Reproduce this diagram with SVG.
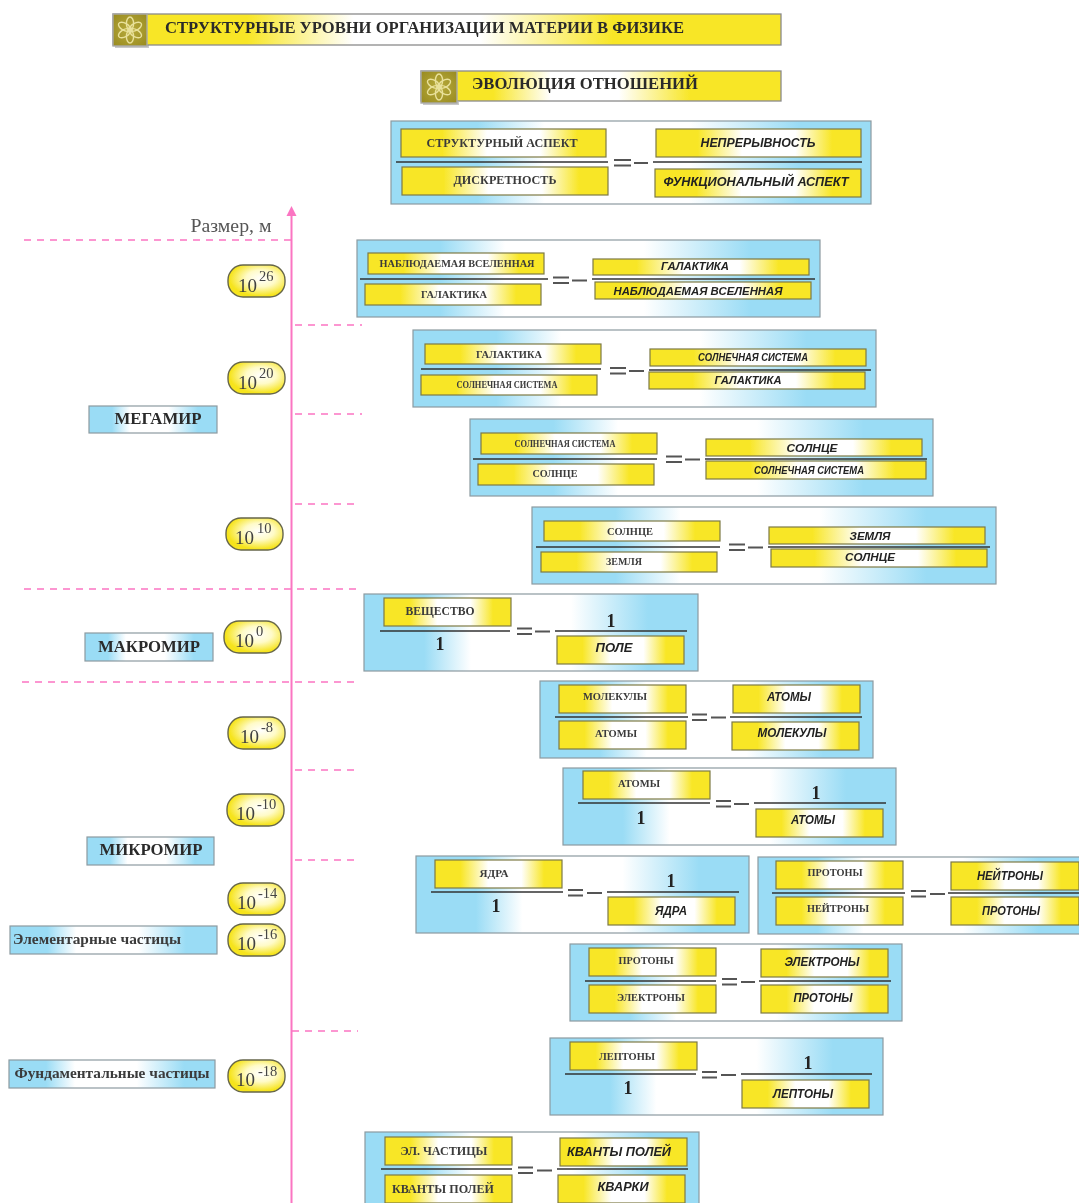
<svg xmlns="http://www.w3.org/2000/svg" width="1079" height="1203" viewBox="0 0 1079 1203">
<style>
text{font-family:"Liberation Serif",serif;fill:#3a3a3a;font-weight:bold;text-anchor:middle}
.i{font-family:"Liberation Sans",sans-serif;font-style:italic;fill:#222;font-size:11px}
.s{font-size:10.5px}
.p{fill:url(#gb);stroke:#8c9aa0;stroke-width:1.2}
.y{fill:url(#gy);stroke:#7d7a45;stroke-width:1.2}
.pill{fill:url(#gp);stroke:#66664a;stroke-width:1.4}
.frac{stroke:#333;stroke-width:1.7;fill:none}
.eq{stroke:#555;stroke-width:2;fill:none}
.one{font-size:18px;fill:#222}
.n{font-weight:normal;fill:#3f3f3f;font-size:19px;text-anchor:start}
.e{font-weight:normal;fill:#444;font-size:14.5px;text-anchor:start}
.side{font-size:16px;fill:#2a2a2a}
.d{stroke:#fb74c2;stroke-width:1.6;stroke-dasharray:7 6;fill:none}
.t{fill:#2a2a2a;text-anchor:start}
.sh{fill:#c9c9c9}
</style>
<defs>
<linearGradient id="gb"><stop offset="0" stop-color="#9adcf5"/><stop offset=".18" stop-color="#9adcf5"/><stop offset=".32" stop-color="#fff"/><stop offset=".62" stop-color="#fff"/><stop offset=".85" stop-color="#9adcf5"/><stop offset="1" stop-color="#9adcf5"/></linearGradient>
<linearGradient id="gy"><stop offset="0" stop-color="#f8e625"/><stop offset=".2" stop-color="#f8e625"/><stop offset=".42" stop-color="#fff"/><stop offset=".68" stop-color="#fff"/><stop offset=".86" stop-color="#f8e625"/><stop offset="1" stop-color="#f8e625"/></linearGradient>
<linearGradient id="gt"><stop offset="0" stop-color="#f8e625"/><stop offset=".2" stop-color="#f8e625"/><stop offset=".36" stop-color="#fff"/><stop offset=".55" stop-color="#fff"/><stop offset=".75" stop-color="#f8e625"/><stop offset="1" stop-color="#f8e625"/></linearGradient>
<radialGradient id="gp" cx=".58" cy=".42" r=".58"><stop offset="0" stop-color="#fff"/><stop offset=".45" stop-color="#fffbc8"/><stop offset=".95" stop-color="#f6e41e"/></radialGradient>
<radialGradient id="gi" r=".7"><stop offset="0" stop-color="#b8ab3c"/><stop offset="1" stop-color="#988a20"/></radialGradient>
<filter id="soft" x="0" y="0" width="1079" height="1203" filterUnits="userSpaceOnUse"><feGaussianBlur stdDeviation="0.5"/></filter>
<g id="atom" fill="none" stroke="#e9e19a" stroke-width="1.4">
<ellipse rx="3.6" ry="6.6" cy="-6.4"/><ellipse rx="3.6" ry="6.6" cy="-6.4" transform="rotate(60)"/><ellipse rx="3.6" ry="6.6" cy="-6.4" transform="rotate(120)"/><ellipse rx="3.6" ry="6.6" cy="-6.4" transform="rotate(180)"/><ellipse rx="3.6" ry="6.6" cy="-6.4" transform="rotate(240)"/><ellipse rx="3.6" ry="6.6" cy="-6.4" transform="rotate(300)"/><circle r="2.2"/>
</g>
<marker id="arr" markerWidth="12" markerHeight="12" refX="3" refY="6" orient="auto" markerUnits="userSpaceOnUse"><path d="M1 1L11 6L1 11Z" fill="#fb74c2"/></marker>
</defs>
<g filter="url(#soft)">
<rect width="1079" height="1203" fill="#fff"/>

<g id="connectors">
<path d="M291.5 1203V214" stroke="#fb74c2" stroke-width="2" fill="none" marker-end="url(#arr)"/>
<path class="d" d="M24 240H291M24 589H357M22 682H357M295 325H362M295 414H362M295 504H358M295 770H360M295 860H358M292 1031H358"/>
</g>

<g id="title1"><rect class="sh" x="115" y="45" width="34" height="3"/><rect x="113" y="14" width="668" height="31" fill="url(#gt)" stroke="#8a8a8a" stroke-width="1.3"/><rect x="113" y="14" width="34" height="32" fill="url(#gi)" stroke="#aaa" stroke-width="1.4"/><use href="#atom" x="130" y="30"/><text class="t" x="165" y="33" font-size="16" textLength="519" lengthAdjust="spacingAndGlyphs">СТРУКТУРНЫЕ УРОВНИ ОРГАНИЗАЦИИ МАТЕРИИ В ФИЗИКЕ</text></g>
<g id="title2"><rect class="sh" x="423" y="102" width="36" height="3"/><rect x="421" y="71" width="360" height="30" fill="url(#gt)" stroke="#8a8a8a" stroke-width="1.3"/><rect x="421" y="71" width="36" height="32" fill="url(#gi)" stroke="#aaa" stroke-width="1.4"/><use href="#atom" x="439" y="87"/><text class="t" x="472" y="89" font-size="17" textLength="226" lengthAdjust="spacingAndGlyphs">ЭВОЛЮЦИЯ ОТНОШЕНИЙ</text></g>

<g id="rel1"><rect class="p" x="391" y="121" width="480" height="83"/>
<rect class="y" x="401" y="129" width="205" height="28"/><text x="502" y="147" font-size="12" textLength="151" lengthAdjust="spacingAndGlyphs">СТРУКТУРНЫЙ АСПЕКТ</text>
<rect class="y" x="402" y="167" width="206" height="28"/><text x="505" y="184" font-size="12" textLength="103" lengthAdjust="spacingAndGlyphs">ДИСКРЕТНОСТЬ</text>
<rect class="y" x="656" y="129" width="205" height="28"/><text class="i" x="758" y="147" style="font-size:12px" textLength="115" lengthAdjust="spacingAndGlyphs">НЕПРЕРЫВНОСТЬ</text>
<rect class="y" x="655" y="169" width="206" height="28"/><text class="i" x="756" y="186" style="font-size:12px" textLength="185" lengthAdjust="spacingAndGlyphs">ФУНКЦИОНАЛЬНЫЙ АСПЕКТ</text>
<path class="frac" d="M396 162H608M653 162H862"/><path class="eq" d="M614 160H631M614 165.500H631M634 163H648"/></g>

<g id="rel2"><rect class="p" x="357" y="240" width="463" height="77"/>
<rect class="y" x="368" y="253" width="176" height="21"/><text x="457" y="267" class="s" textLength="155" lengthAdjust="spacingAndGlyphs">НАБЛЮДАЕМАЯ ВСЕЛЕННАЯ</text>
<rect class="y" x="365" y="284" width="176" height="21"/><text x="454" y="298" class="s" textLength="66" lengthAdjust="spacingAndGlyphs">ГАЛАКТИКА</text>
<rect class="y" x="593" y="259" width="216" height="16"/><text class="i" x="695" y="270" textLength="68" lengthAdjust="spacingAndGlyphs">ГАЛАКТИКА</text>
<rect class="y" x="595" y="282" width="216" height="17"/><text class="i" x="698" y="295" textLength="169" lengthAdjust="spacingAndGlyphs">НАБЛЮДАЕМАЯ ВСЕЛЕННАЯ</text>
<path class="frac" d="M360 279H548M592 279H815"/><path class="eq" d="M553 277.500H569M553 283H569M572 280.500H587"/></g>

<g id="rel3"><rect class="p" x="413" y="330" width="463" height="77"/>
<rect class="y" x="425" y="344" width="176" height="20"/><text x="509" y="358" class="s" textLength="66" lengthAdjust="spacingAndGlyphs">ГАЛАКТИКА</text>
<rect class="y" x="421" y="375" width="176" height="20"/><text x="507" y="388" class="s" textLength="101" lengthAdjust="spacingAndGlyphs">СОЛНЕЧНАЯ СИСТЕМА</text>
<rect class="y" x="650" y="349" width="216" height="17"/><text class="i" x="753" y="361" textLength="110" lengthAdjust="spacingAndGlyphs">СОЛНЕЧНАЯ СИСТЕМА</text>
<rect class="y" x="649" y="372" width="216" height="17"/><text class="i" x="748" y="384" textLength="67" lengthAdjust="spacingAndGlyphs">ГАЛАКТИКА</text>
<path class="frac" d="M421 369H601M649 370H871"/><path class="eq" d="M610 368H626M610 373.500H626M629 371H644"/></g>

<g id="rel4"><rect class="p" x="470" y="419" width="463" height="77"/>
<rect class="y" x="481" y="433" width="176" height="21"/><text x="565" y="447" class="s" textLength="101" lengthAdjust="spacingAndGlyphs">СОЛНЕЧНАЯ СИСТЕМА</text>
<rect class="y" x="478" y="464" width="176" height="21"/><text x="555" y="477" class="s" textLength="45" lengthAdjust="spacingAndGlyphs">СОЛНЦЕ</text>
<rect class="y" x="706" y="439" width="216" height="17"/><text class="i" x="812" y="452" textLength="51" lengthAdjust="spacingAndGlyphs">СОЛНЦЕ</text>
<rect class="y" x="706" y="461" width="220" height="18"/><text class="i" x="809" y="474" textLength="110" lengthAdjust="spacingAndGlyphs">СОЛНЕЧНАЯ СИСТЕМА</text>
<path class="frac" d="M473 459H657M705 459H927"/><path class="eq" d="M666 456.500H682M666 462H682M685 459.500H700"/></g>

<g id="rel5"><rect class="p" x="532" y="507" width="464" height="77"/>
<rect class="y" x="544" y="521" width="176" height="20"/><text x="630" y="535" class="s" textLength="46" lengthAdjust="spacingAndGlyphs">СОЛНЦЕ</text>
<rect class="y" x="541" y="552" width="176" height="20"/><text x="624" y="565" class="s" textLength="36" lengthAdjust="spacingAndGlyphs">ЗЕМЛЯ</text>
<rect class="y" x="769" y="527" width="216" height="17"/><text class="i" x="870" y="540" textLength="41" lengthAdjust="spacingAndGlyphs">ЗЕМЛЯ</text>
<rect class="y" x="771" y="549" width="216" height="18"/><text class="i" x="870" y="561" textLength="50" lengthAdjust="spacingAndGlyphs">СОЛНЦЕ</text>
<path class="frac" d="M536 547H720M768 547H990"/><path class="eq" d="M729 544.500H745M729 550H745M748 547.500H763"/></g>

<g id="rel6"><rect class="p" x="364" y="594" width="334" height="77"/>
<rect class="y" x="384" y="598" width="127" height="28"/><text x="440" y="615" font-size="11.5" textLength="69" lengthAdjust="spacingAndGlyphs">ВЕЩЕСТВО</text>
<text class="one" x="440" y="650">1</text>
<text class="one" x="611" y="627">1</text>
<rect class="y" x="557" y="636" width="127" height="28"/><text class="i" x="614" y="652" style="font-size:12px" textLength="37" lengthAdjust="spacingAndGlyphs">ПОЛЕ</text>
<path class="frac" d="M380 631H510M555 631H687"/><path class="eq" d="M517 628.500H532M517 634H532M535 631.500H550"/></g>

<g id="rel7"><rect class="p" x="540" y="681" width="333" height="77"/>
<rect class="y" x="559" y="685" width="127" height="28"/><text x="615" y="700" font-size="11" textLength="64" lengthAdjust="spacingAndGlyphs">МОЛЕКУЛЫ</text>
<rect class="y" x="559" y="721" width="127" height="28"/><text x="616" y="737" font-size="11" textLength="42" lengthAdjust="spacingAndGlyphs">АТОМЫ</text>
<rect class="y" x="733" y="685" width="127" height="28"/><text class="i" x="789" y="701" style="font-size:12px" textLength="44" lengthAdjust="spacingAndGlyphs">АТОМЫ</text>
<rect class="y" x="732" y="722" width="127" height="28"/><text class="i" x="792" y="737" style="font-size:12px" textLength="69" lengthAdjust="spacingAndGlyphs">МОЛЕКУЛЫ</text>
<path class="frac" d="M555 717H688M730 717H862"/><path class="eq" d="M692 714.500H707M692 720H707M711 717.500H726"/></g>

<g id="rel8"><rect class="p" x="563" y="768" width="333" height="77"/>
<rect class="y" x="583" y="771" width="127" height="28"/><text x="639" y="787" font-size="11" textLength="42" lengthAdjust="spacingAndGlyphs">АТОМЫ</text>
<text class="one" x="641" y="824">1</text><text class="one" x="816" y="799">1</text>
<rect class="y" x="756" y="809" width="127" height="28"/><text class="i" x="813" y="824" style="font-size:12px" textLength="44" lengthAdjust="spacingAndGlyphs">АТОМЫ</text>
<path class="frac" d="M578 803H710M754 803H886"/><path class="eq" d="M716 801H731M716 806.500H731M734 804H749"/></g>

<g id="rel9"><rect class="p" x="416" y="856" width="333" height="77"/>
<rect class="y" x="435" y="860" width="127" height="28"/><text x="494" y="877" font-size="11" textLength="29" lengthAdjust="spacingAndGlyphs">ЯДРА</text>
<text class="one" x="496" y="912">1</text><text class="one" x="671" y="887">1</text>
<rect class="y" x="608" y="897" width="127" height="28"/><text class="i" x="671" y="915" style="font-size:12px" textLength="32" lengthAdjust="spacingAndGlyphs">ЯДРА</text>
<path class="frac" d="M431 892H563M607 892H739"/><path class="eq" d="M568 890H583M568 895.500H583M587 893H602"/></g>

<g id="rel10"><rect class="p" x="758" y="857" width="330" height="77"/>
<rect class="y" x="776" y="861" width="127" height="28"/><text x="835" y="876" font-size="11" textLength="55" lengthAdjust="spacingAndGlyphs">ПРОТОНЫ</text>
<rect class="y" x="776" y="897" width="127" height="28"/><text x="838" y="912" font-size="11" textLength="62" lengthAdjust="spacingAndGlyphs">НЕЙТРОНЫ</text>
<rect class="y" x="951" y="862" width="128" height="28"/><text class="i" x="1010" y="880" style="font-size:12px" textLength="66" lengthAdjust="spacingAndGlyphs">НЕЙТРОНЫ</text>
<rect class="y" x="951" y="897" width="128" height="28"/><text class="i" x="1011" y="915" style="font-size:12px" textLength="58" lengthAdjust="spacingAndGlyphs">ПРОТОНЫ</text>
<path class="frac" d="M772 893H905M948 893H1079"/><path class="eq" d="M911 891H926M911 896.500H926M930 894H945"/></g>

<g id="rel11"><rect class="p" x="570" y="944" width="332" height="77"/>
<rect class="y" x="589" y="948" width="127" height="28"/><text x="646" y="964" font-size="11" textLength="55" lengthAdjust="spacingAndGlyphs">ПРОТОНЫ</text>
<rect class="y" x="589" y="985" width="127" height="28"/><text x="651" y="1001" font-size="11" textLength="68" lengthAdjust="spacingAndGlyphs">ЭЛЕКТРОНЫ</text>
<rect class="y" x="761" y="949" width="127" height="28"/><text class="i" x="822" y="966" style="font-size:12px" textLength="75" lengthAdjust="spacingAndGlyphs">ЭЛЕКТРОНЫ</text>
<rect class="y" x="761" y="985" width="127" height="28"/><text class="i" x="823" y="1002" style="font-size:12px" textLength="59" lengthAdjust="spacingAndGlyphs">ПРОТОНЫ</text>
<path class="frac" d="M585 981H716M759 981H891"/><path class="eq" d="M722 979H737M722 984.500H737M741 982H755"/></g>

<g id="rel12"><rect class="p" x="550" y="1038" width="333" height="77"/>
<rect class="y" x="570" y="1042" width="127" height="28"/><text x="627" y="1060" font-size="11" textLength="56" lengthAdjust="spacingAndGlyphs">ЛЕПТОНЫ</text>
<text class="one" x="628" y="1094">1</text><text class="one" x="808" y="1069">1</text>
<rect class="y" x="742" y="1080" width="127" height="28"/><text class="i" x="803" y="1098" style="font-size:12px" textLength="60" lengthAdjust="spacingAndGlyphs">ЛЕПТОНЫ</text>
<path class="frac" d="M565 1074H696M741 1074H872"/><path class="eq" d="M702 1072H717M702 1077.500H717M721 1075H736"/></g>

<g id="rel13"><rect class="p" x="365" y="1132" width="334" height="80"/>
<rect class="y" x="385" y="1137" width="127" height="28"/><text x="444" y="1155" font-size="11.5" textLength="87" lengthAdjust="spacingAndGlyphs">ЭЛ. ЧАСТИЦЫ</text>
<rect class="y" x="385" y="1175" width="127" height="28"/><text x="443" y="1193" font-size="11.5" textLength="102" lengthAdjust="spacingAndGlyphs">КВАНТЫ ПОЛЕЙ</text>
<rect class="y" x="560" y="1138" width="127" height="28"/><text class="i" x="619" y="1156" style="font-size:12px" textLength="104" lengthAdjust="spacingAndGlyphs">КВАНТЫ ПОЛЕЙ</text>
<rect class="y" x="558" y="1175" width="127" height="28"/><text class="i" x="623" y="1191" style="font-size:12px" textLength="51" lengthAdjust="spacingAndGlyphs">КВАРКИ</text>
<path class="frac" d="M381 1169H512M557 1169H688"/><path class="eq" d="M518 1167.500H533M518 1173H533M537 1170.500H552"/></g>

<text id="axis-label" x="231" y="232" font-size="18" style="font-weight:normal;fill:#555" textLength="81" lengthAdjust="spacingAndGlyphs">Размер, м</text>

<g id="p26"><rect class="pill" x="228" y="265" width="57" height="32" rx="15"/><text class="n" x="238" y="292">10</text><text class="e" x="259" y="281">26</text></g>
<g id="p20"><rect class="pill" x="228" y="362" width="57" height="32" rx="15"/><text class="n" x="238" y="389">10</text><text class="e" x="259" y="378">20</text></g>
<g id="p10"><rect class="pill" x="226" y="518" width="57" height="32" rx="15"/><text class="n" x="235" y="544">10</text><text class="e" x="257" y="533">10</text></g>
<g id="p0"><rect class="pill" x="224" y="621" width="57" height="32" rx="15"/><text class="n" x="235" y="647">10</text><text class="e" x="256" y="636">0</text></g>
<g id="pm8"><rect class="pill" x="228" y="717" width="57" height="32" rx="15"/><text class="n" x="240" y="743">10</text><text class="e" x="261" y="732">-8</text></g>
<g id="pm10"><rect class="pill" x="227" y="794" width="57" height="32" rx="15"/><text class="n" x="236" y="820">10</text><text class="e" x="257" y="809">-10</text></g>
<g id="pm14"><rect class="pill" x="228" y="883" width="57" height="32" rx="15"/><text class="n" x="237" y="909">10</text><text class="e" x="258" y="898">-14</text></g>
<g id="pm16"><rect class="pill" x="228" y="924" width="57" height="32" rx="15"/><text class="n" x="237" y="950">10</text><text class="e" x="258" y="939">-16</text></g>
<g id="pm18"><rect class="pill" x="228" y="1060" width="57" height="32" rx="15"/><text class="n" x="236" y="1086">10</text><text class="e" x="258" y="1076">-18</text></g>

<g id="mega"><rect class="p" x="89" y="406" width="128" height="27"/><text class="side" x="158" y="424" textLength="87" lengthAdjust="spacingAndGlyphs">МЕГАМИР</text></g>
<g id="macro"><rect class="p" x="85" y="633" width="128" height="28"/><text class="side" x="149" y="652" textLength="102" lengthAdjust="spacingAndGlyphs">МАКРОМИР</text></g>
<g id="micro"><rect class="p" x="87" y="837" width="127" height="28"/><text class="side" x="151" y="855" textLength="103" lengthAdjust="spacingAndGlyphs">МИКРОМИР</text></g>
<g id="elem"><rect class="p" x="10" y="926" width="207" height="28"/><text x="97" y="944" font-size="14.5" textLength="168" lengthAdjust="spacingAndGlyphs">Элементарные частицы</text></g>
<g id="fund"><rect class="p" x="9" y="1060" width="206" height="28"/><text x="112" y="1078" font-size="14.5" textLength="195" lengthAdjust="spacingAndGlyphs">Фундаментальные частицы</text></g>
</g>
</svg>
